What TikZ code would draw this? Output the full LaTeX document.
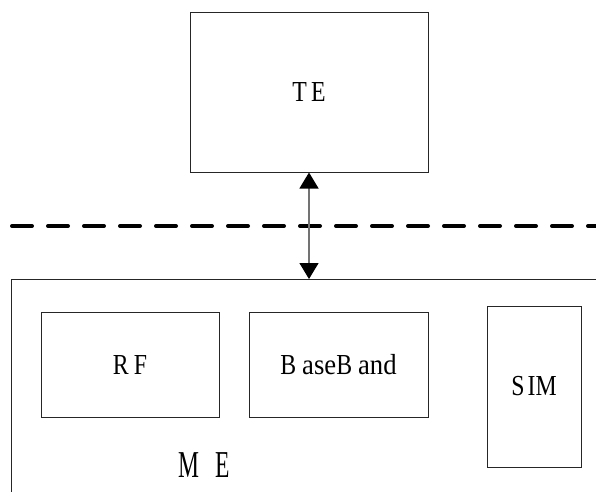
\documentclass[tikz,border=0pt]{standalone}
\usepackage{fontspec}
\setmainfont{Liberation Serif}[FakeStretch=0.82]
\newfontfamily\mefont{Liberation Serif}[FakeStretch=0.62]
\newfontfamily\lcfont{Liberation Serif}[FakeStretch=0.92]
\usetikzlibrary{arrows.meta}
\tikzset{
  box/.style={draw=black!85, line width=1pt, inner sep=0pt, font=\fontsize{29}{32}\selectfont},
  sep/.style={line width=4pt, line cap=round, dash pattern=on 20pt off 16pt},
  link/.style={draw=black!55, line width=1.3pt,
    {Triangle[length=16pt,width=19pt,color=black]}-{Triangle[length=16pt,width=19pt,color=black]}},
  lbl/.style={inner sep=0pt, anchor=base}
}
\begin{document}
\begin{tikzpicture}[x=1pt,y=-1pt]
\useasboundingbox (0,0) rectangle (596,491);
\clip (0,0) rectangle (596,491);
\fill[white] (0,0) rectangle (596,491);
% TE box
\node[box, minimum width=238pt, minimum height=160pt] (te) at (309,92) {T\kern4pt E};
% separator line
\coordinate (dl) at (12,226);
\coordinate (dr) at (610,226);
\draw[sep] (dl) -- (dr);
% ME box (extends beyond the picture)
\node[box, anchor=north west, minimum width=640pt, minimum height=260pt] (me) at (11,279) {};
% inner blocks
\node[box, minimum width=178pt, minimum height=105pt] (rf) at (130,364.5) {R\kern5pt F};
\node[box, minimum width=179pt, minimum height=105pt] (bb) at (338.5,364.5) {B\kern6pt {\lcfont ase}B\kern6pt {\lcfont and}};
\node[box, minimum width=94pt, minimum height=161pt] (sim) at (534,386.5) {S\kern3pt IM};
\node[lbl, font=\mefont\fontsize{38}{40}\selectfont] (mel) at (204.5,477) {M\kern16pt E};
% link TE <-> ME
\draw[link] (te.south) -- (te.south |- me.north);
\end{tikzpicture}
\end{document}
